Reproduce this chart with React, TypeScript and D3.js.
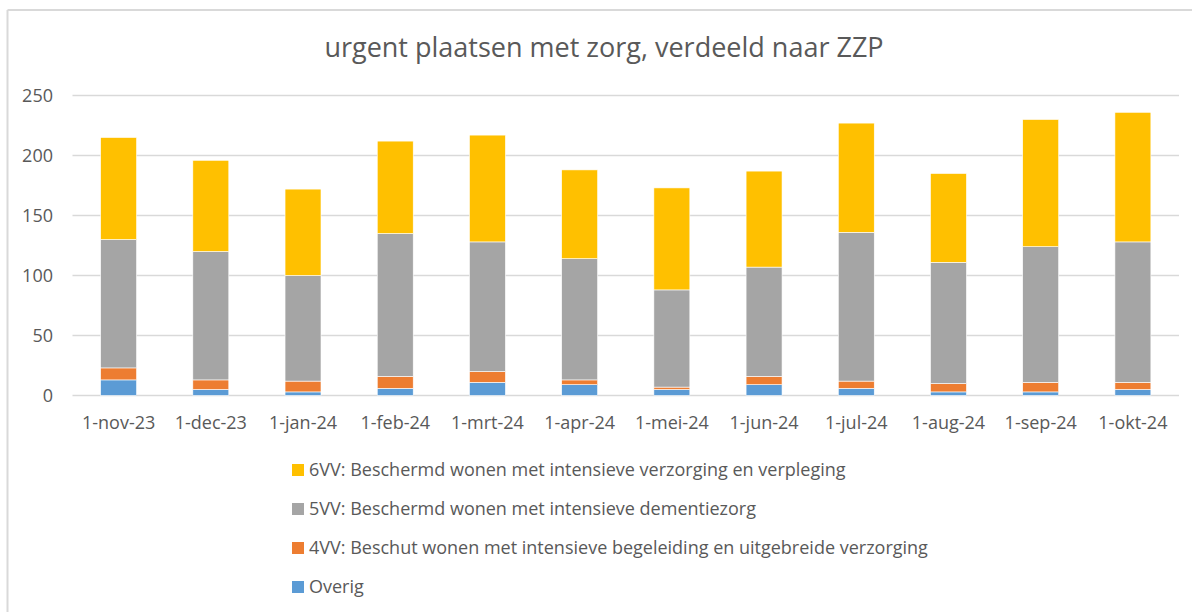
import React from "react";
import * as d3 from "d3";

const categories = ["1-nov-23","1-dec-23","1-jan-24","1-feb-24","1-mrt-24","1-apr-24","1-mei-24","1-jun-24","1-jul-24","1-aug-24","1-sep-24","1-okt-24"];
const overig = [13, 5, 3, 6, 11, 9, 5, 9, 6, 3, 3, 5];
const vv4 = [10, 8, 9, 10, 9, 4, 2, 7, 6, 7, 8, 6];
const vv5 = [107, 107, 88, 119, 108, 101, 81, 91, 124, 101, 113, 117];
const vv6 = [85, 76, 72, 77, 89, 74, 85, 80, 91, 74, 106, 108];
const yTicks = [0, 50, 100, 150, 200, 250];
const title = "urgent plaatsen met zorg, verdeeld naar ZZP";

const seriesDefs = [
  { key: "overig", label: "Overig", color: "#5B9BD5", values: overig },
  { key: "vv4", label: "4VV: Beschut wonen met intensieve begeleiding en uitgebreide verzorging", color: "#ED7D31", values: vv4 },
  { key: "vv5", label: "5VV: Beschermd wonen met intensieve dementiezorg", color: "#A5A5A5", values: vv5 },
  { key: "vv6", label: "6VV: Beschermd wonen met intensieve verzorging en verpleging", color: "#FFC000", values: vv6 },
];

export default function App() {
  const W = 1192, H = 612;
  const left = 72.5, right = 1179, top = 95.5, bottom = 395.5;
  const font = "'Open Sans', 'Noto Sans', sans-serif";
  const textColor = "#595959";

  const x = d3.scaleBand().domain(categories).range([left, right]).paddingInner(0.61).paddingOuter(0.305);
  const y = d3.scaleLinear().domain([0, 250]).range([bottom, top]);

  const table = categories.map((c, i) => {
    const row: any = { cat: c };
    seriesDefs.forEach(s => (row[s.key] = s.values[i]));
    return row;
  });
  const stack = d3.stack().keys(seriesDefs.map(s => s.key))(table as any);

  const legendOrder = [...seriesDefs].reverse();

  return (
    <svg width={W} height={H} style={{ position: "absolute", left: 0, top: 0, background: "#fff" }}>
      <rect x={0} y={0} width={W} height={H} fill="#fff" />
      <line x1={7.5} y1={10} x2={W} y2={10} stroke="#d9d9d9" strokeWidth={2} />
      <line x1={7.5} y1={10} x2={7.5} y2={H} stroke="#d9d9d9" strokeWidth={2} />
      <text x={604} y={57} textAnchor="middle" fontFamily={font} fontSize={27} fill={textColor}>{title}</text>
      {yTicks.map(t => (
        <g key={t}>
          <line x1={left} x2={right} y1={y(t)} y2={y(t)} stroke="#d9d9d9" strokeWidth={1.5} />
          <text x={53} y={y(t)} dy="0.35em" textAnchor="end" fontFamily={font} fontSize={18} fill={textColor}>{t}</text>
        </g>
      ))}
      {stack.map((layer, si) => (
        <g key={si} fill={seriesDefs[si].color}>
          {layer.map((d, i) => (
            <rect key={i} x={x(categories[i])} y={y(d[1])} width={x.bandwidth()} height={y(d[0]) - y(d[1])} stroke="#fff" strokeWidth={0.6} />
          ))}
        </g>
      ))}
      {categories.map(c => (
        <text key={c} x={(x(c) as number) + x.bandwidth() / 2} y={423} dy="0.35em" textAnchor="middle" fontFamily={font} fontSize={18} fill={textColor}>{c}</text>
      ))}
      {legendOrder.map((s, i) => {
        const cy = 470 + i * 39;
        return (
          <g key={s.key}>
            <rect x={292} y={cy - 6} width={12} height={12} fill={s.color} />
            <text x={309} y={cy} dy="0.35em" fontFamily={font} fontSize={18} fill={textColor}>{s.label}</text>
          </g>
        );
      })}
    </svg>
  );
}
